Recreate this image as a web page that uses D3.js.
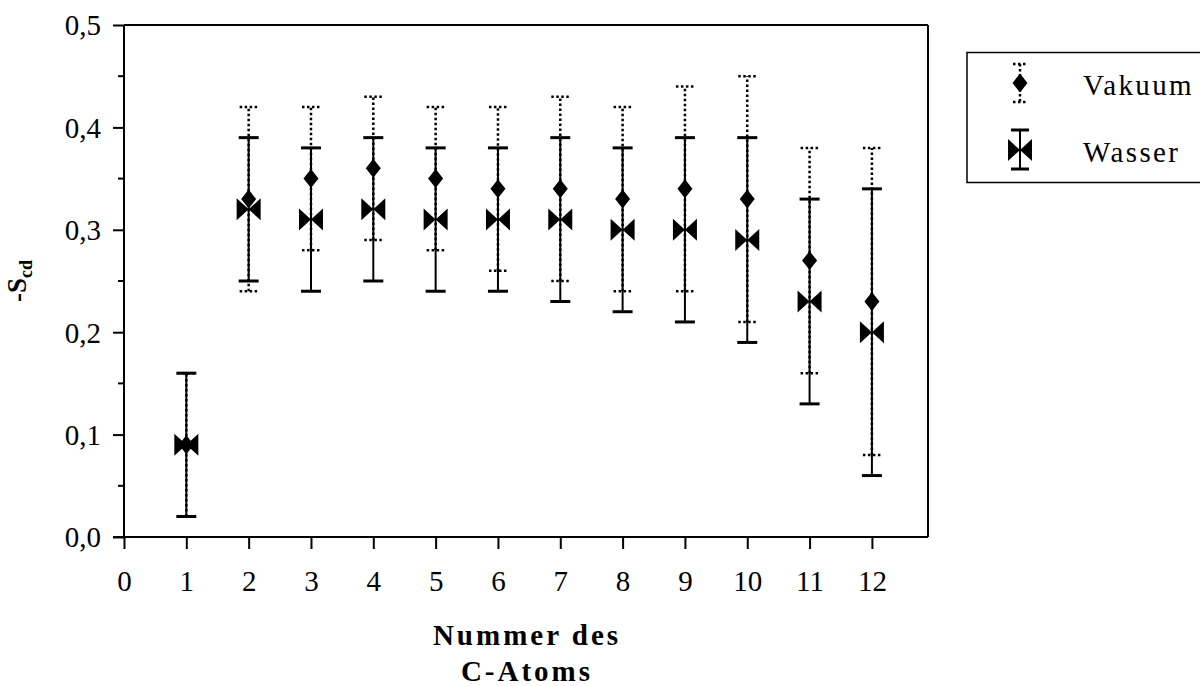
<!DOCTYPE html>
<html><head><meta charset="utf-8">
<script src="https://cdn.jsdelivr.net/npm/d3@7"></script>
<style>
html,body{margin:0;padding:0;background:#fff;}
svg{display:block;}
svg text{font-family:"Liberation Serif","Tinos","Times New Roman","DejaVu Serif",serif;}
</style></head>
<body>
<svg id="chart" width="1200" height="686"></svg>
<script>
const atoms = [1,2,3,4,5,6,7,8,9,10,11,12];
const vakuumMean = [0.09,0.33,0.35,0.36,0.35,0.34,0.34,0.33,0.34,0.33,0.27,0.23];
const vakuumLow  = [0.02,0.24,0.28,0.29,0.28,0.26,0.25,0.24,0.24,0.21,0.16,0.08];
const vakuumHigh = [0.16,0.42,0.42,0.43,0.42,0.42,0.43,0.42,0.44,0.45,0.38,0.38];
const wasserMean = [0.09,0.32,0.31,0.32,0.31,0.31,0.31,0.30,0.30,0.29,0.23,0.20];
const wasserLow  = [0.02,0.25,0.24,0.25,0.24,0.24,0.23,0.22,0.21,0.19,0.13,0.06];
const wasserHigh = [0.16,0.39,0.38,0.39,0.38,0.38,0.39,0.38,0.39,0.39,0.33,0.34];
const xTicks = [0,1,2,3,4,5,6,7,8,9,10,11,12];
const yTicks = [0,0.1,0.2,0.3,0.4,0.5];
const yMinorTicks = [0.05,0.15,0.25,0.35,0.45];
const seriesNames = ["Vakuum","Wasser"];

const svg = d3.select("#chart");
const x = d3.scaleLinear().domain([0,12.9]).range([124,928]);
const y = d3.scaleLinear().domain([0,0.5]).range([537,25]);

const vak = atoms.map((a,i)=>({a, m:vakuumMean[i], lo:vakuumLow[i], hi:vakuumHigh[i]}));
const was = atoms.map((a,i)=>({a, m:wasserMean[i], lo:wasserLow[i], hi:wasserHigh[i]}));

// frame
svg.append("line").attr("x1",x(0)).attr("x2",x(12.9)).attr("y1",y(0.5)).attr("y2",y(0.5)).attr("stroke","#000").attr("stroke-width",2);
svg.append("line").attr("x1",x(12.9)).attr("x2",x(12.9)).attr("y1",y(0.5)).attr("y2",y(0)).attr("stroke","#000").attr("stroke-width",2);

// y axis
const yAxis = svg.append("g").attr("transform",`translate(${x(0)},0)`)
  .call(d3.axisLeft(y).tickValues(yTicks).tickSize(11).tickPadding(12).tickFormat(d=>d3.format(".1f")(d).replace(".",",")));
yAxis.attr("font-family",null);
yAxis.select(".domain").attr("stroke-width",2).attr("d",`M0,${y(0.5)}V${y(0)}`);
yAxis.selectAll(".tick line").attr("stroke-width",2);
yAxis.selectAll(".tick text").attr("font-size",29).attr("fill","#000").attr("dy","0.34em");
svg.append("g").attr("transform",`translate(${x(0)},0)`).selectAll("line").data(yMinorTicks).join("line")
  .attr("x1",-6).attr("x2",0).attr("y1",d=>y(d)).attr("y2",d=>y(d)).attr("stroke","#000").attr("stroke-width",2);

// x axis
const xAxis = svg.append("g").attr("transform",`translate(0,${y(0)})`)
  .call(d3.axisBottom(x).tickValues(xTicks).tickSize(12).tickPadding(21).tickFormat(d3.format("d")));
xAxis.attr("font-family",null);
xAxis.select(".domain").attr("stroke-width",2).attr("d",`M${x(0)-11},0H${x(12.9)}`);
xAxis.selectAll(".tick line").attr("stroke-width",2);
xAxis.selectAll(".tick text").attr("font-size",29).attr("fill","#000");

// error bars
function errBars(data, dashed, capW){
  const g = svg.append("g");
  const v = g.selectAll("line.v").data(data).join("line").attr("class","v")
    .attr("x1",d=>x(d.a)).attr("x2",d=>x(d.a)).attr("y1",d=>y(d.lo)).attr("y2",d=>y(d.hi))
    .attr("stroke","#000").attr("stroke-width", dashed?2.5:2);
  if(dashed) v.attr("stroke-dasharray","2.5,2.5");
  ["lo","hi"].forEach(k=>{
    const c = g.selectAll("line.c"+k).data(data).join("line").attr("class","c"+k)
      .attr("x1",d=>x(d.a)-capW/2).attr("x2",d=>x(d.a)+capW/2).attr("y1",d=>y(d[k])).attr("y2",d=>y(d[k]));
    c.attr("stroke","#000").attr("stroke-width",dashed?2.5:3);
    if(dashed) c.attr("stroke-dasharray","2.5,2.5");
  });
}
errBars(was,false,20);
errBars(vak,true,18);

const diamond = "M0,-9.5L7.5,0L0,9.5L-7.5,0Z";
const bowtie = "M-12,-11L0,0L-12,11Z M12,-11L0,0L12,11Z";
svg.append("g").selectAll("path").data(vak).join("path")
  .attr("d",diamond).attr("transform",d=>`translate(${x(d.a)},${y(d.m)})`).attr("fill","#000");
svg.append("g").selectAll("path").data(was).join("path")
  .attr("d",bowtie).attr("transform",d=>`translate(${x(d.a)},${y(d.m)})`).attr("fill","#000");

// axis titles
const xt = svg.append("text").attr("text-anchor","middle").attr("font-weight","bold")
  .attr("font-size",29).attr("letter-spacing",3).attr("fill","#000");
xt.append("tspan").attr("x",527).attr("y",645).text("Nummer des");
xt.append("tspan").attr("x",527).attr("y",681).text("C-Atoms");

const yt = svg.append("text").attr("transform","translate(26,281) rotate(-90)").attr("text-anchor","middle")
  .attr("font-weight","bold").attr("font-size",27).attr("fill","#000");
yt.append("tspan").text("-S");
yt.append("tspan").attr("font-size",18).attr("dy",6).text("cd");

// legend
const lg = svg.append("g");
lg.append("rect").attr("x",967).attr("y",52.5).attr("width",300).attr("height",130).attr("fill","none").attr("stroke","#000").attr("stroke-width",1.5);
const lx = 1020;
// Vakuum
lg.append("line").attr("x1",lx).attr("x2",lx).attr("y1",64).attr("y2",102).attr("stroke","#000").attr("stroke-width",2.5).attr("stroke-dasharray","2.5,2.5");
[64,102].forEach(yy=>lg.append("line").attr("x1",lx-7).attr("x2",lx+7).attr("y1",yy).attr("y2",yy).attr("stroke","#000").attr("stroke-width",2.5).attr("stroke-dasharray","2.5,2.5"));
lg.append("path").attr("d",diamond).attr("transform",`translate(${lx},83)`).attr("fill","#000");
// Wasser
lg.append("line").attr("x1",lx).attr("x2",lx).attr("y1",130).attr("y2",169).attr("stroke","#000").attr("stroke-width",2);
[130,169].forEach(yy=>lg.append("line").attr("x1",lx-9).attr("x2",lx+9).attr("y1",yy).attr("y2",yy).attr("stroke","#000").attr("stroke-width",3));
lg.append("path").attr("d",bowtie).attr("transform",`translate(${lx},150)`).attr("fill","#000");
lg.selectAll("text").data(seriesNames).join("text")
  .attr("x",1083).attr("y",(d,i)=>[95,162][i]).attr("font-size",29).attr("letter-spacing",2.4).attr("fill","#000").text(d=>d);
</script>
</body></html>
